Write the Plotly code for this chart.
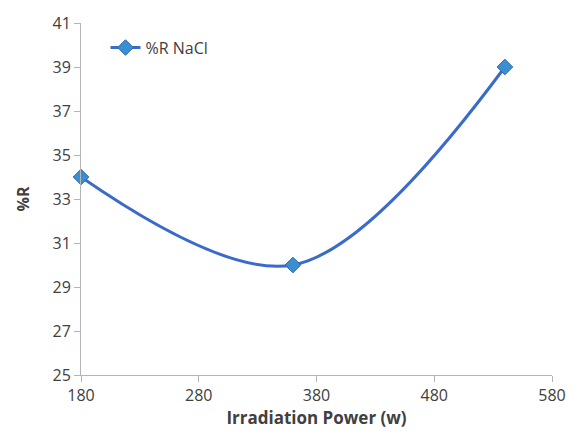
import plotly.graph_objects as go

power = [180, 360, 540]
r_nacl = [34, 30, 39]
x_ticks = [180, 280, 380, 480, 580]
y_ticks = [25, 27, 29, 31, 33, 35, 37, 39, 41]

FONT = "Open Sans, sans-serif"
TXT = "#404040"

fig = go.Figure()
fig.add_trace(go.Scatter(
    x=power, y=r_nacl, mode="lines+markers", name="%R NaCl",
    line=dict(color="#3A6BCB", width=3, shape="spline", smoothing=1),
    marker=dict(symbol="diamond", size=12, color="#3A8FD0",
                line=dict(color="#2E64B0", width=1)),
    cliponaxis=False,
))

axis_common = dict(
    showgrid=False, zeroline=False, showline=True, linecolor="#B5B5B5",
    linewidth=1, ticks="outside", ticklen=6, tickcolor="#B5B5B5",
    tickfont=dict(family=FONT, size=16, color=TXT),
)

fig.update_layout(
    width=578, height=436,
    margin=dict(l=81, r=19, t=22, b=55),
    paper_bgcolor="white", plot_bgcolor="white",
    showlegend=True,
    legend=dict(x=0.052, y=0.93, xanchor="left", yanchor="middle",
                font=dict(family=FONT, size=16, color=TXT),
                bgcolor="rgba(0,0,0,0)"),
    xaxis=dict(range=[180, 580], tickvals=x_ticks, **axis_common,
               title=dict(text="<b>Irradiation Power (w)</b>", standoff=6,
                          font=dict(family=FONT, size=17, color=TXT))),
    yaxis=dict(range=[25, 41], tickvals=y_ticks, **axis_common,
               title=dict(text="<b>%R</b>", standoff=18,
                          font=dict(family=FONT, size=16, color=TXT))),
)

fig.write_html("out.html")
